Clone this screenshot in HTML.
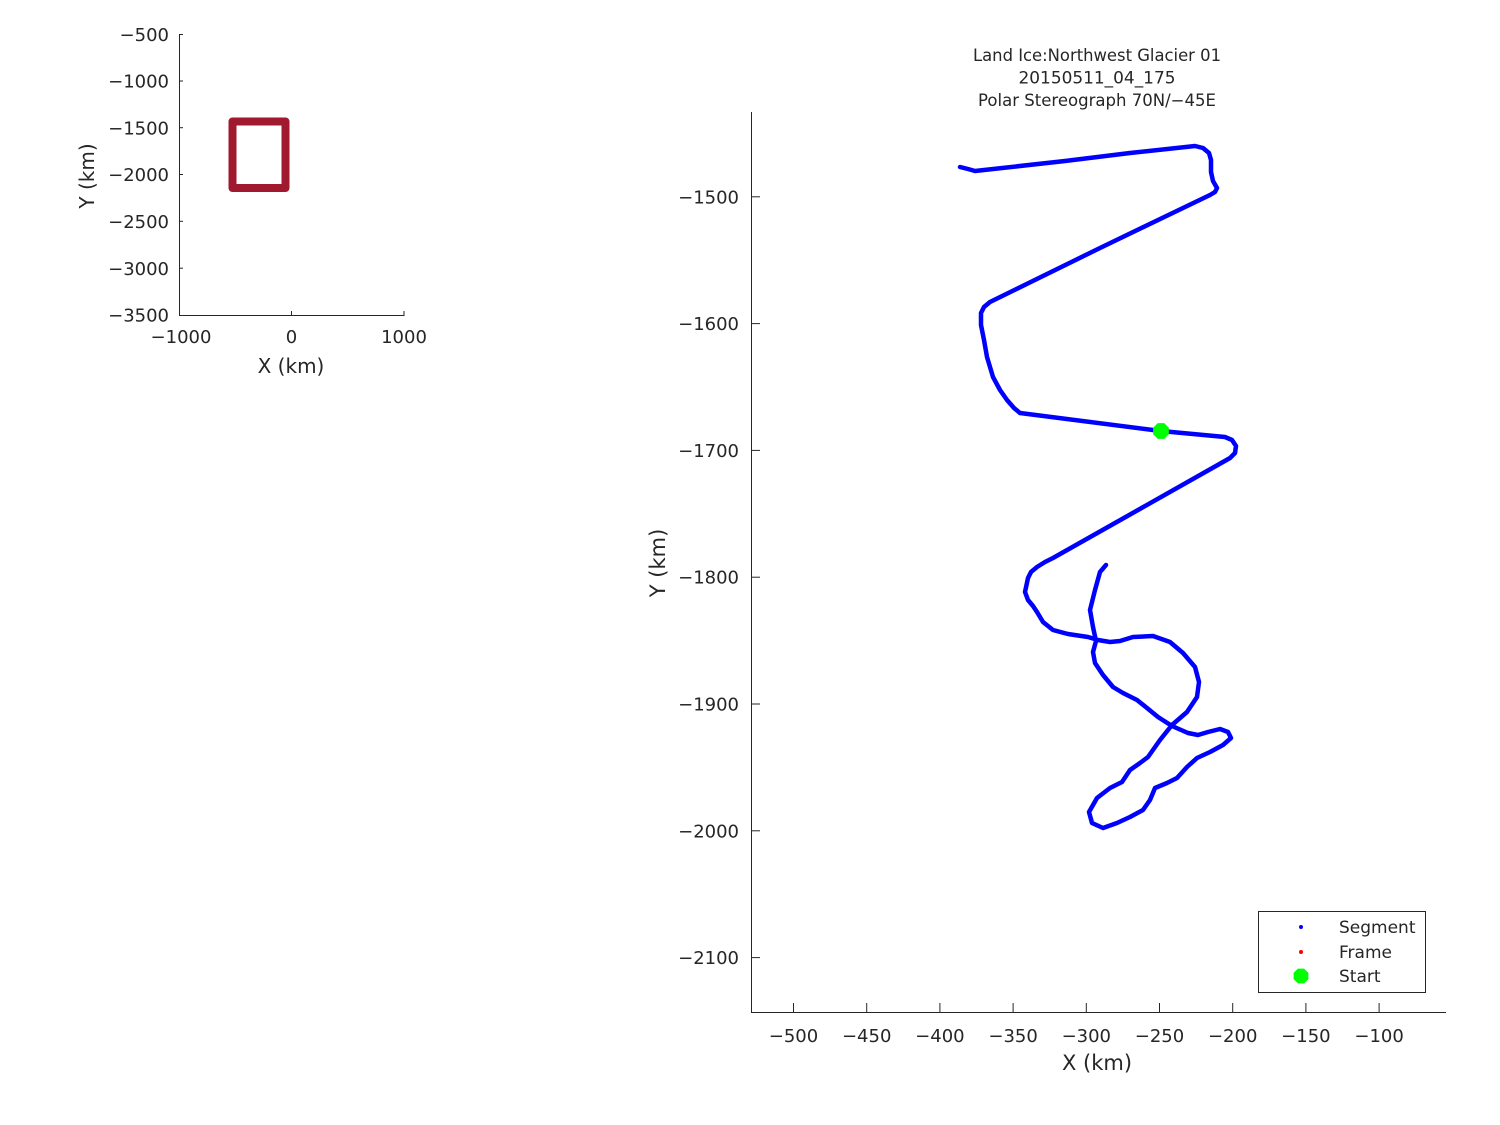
<!DOCTYPE html>
<html>
<head>
<meta charset="utf-8">
<style>
  html, body { margin:0; padding:0; background:#fff; }
  svg { display:block; }
  text { font-family: "DejaVu Sans", "Liberation Sans", sans-serif; fill:#262626; }
</style>
</head>
<body>
<svg width="1500" height="1125" viewBox="0 0 1500 1125" xmlns="http://www.w3.org/2000/svg">
  <rect x="0" y="0" width="1500" height="1125" fill="#fff"/>

  <!-- ===== Small overview axes ===== -->
  <g stroke="#262626" stroke-width="1" fill="none">
    <line x1="179.5" y1="34" x2="179.5" y2="315.5"/>
    <line x1="179" y1="315.5" x2="404.5" y2="315.5"/>
    <line x1="291.5" y1="315" x2="291.5" y2="311"/>
    <line x1="404" y1="315" x2="404" y2="311"/>
    <line x1="179" y1="34.5" x2="183" y2="34.5"/>
    <line x1="179" y1="81" x2="183" y2="81"/>
    <line x1="179" y1="127.7" x2="183" y2="127.7"/>
    <line x1="179" y1="174.5" x2="183" y2="174.5"/>
    <line x1="179" y1="221.3" x2="183" y2="221.3"/>
    <line x1="179" y1="268.2" x2="183" y2="268.2"/>
  </g>
  <rect x="232.5" y="121.5" width="53" height="66.5" fill="none" stroke="#a0192f" stroke-width="8" stroke-linejoin="round"/>
  <g font-size="18" text-anchor="end">
    <text x="169" y="41">−500</text>
    <text x="169" y="87.5">−1000</text>
    <text x="169" y="134.5">−1500</text>
    <text x="169" y="181">−2000</text>
    <text x="169" y="228">−2500</text>
    <text x="169" y="275">−3000</text>
    <text x="169" y="321.5">−3500</text>
  </g>
  <g font-size="18" text-anchor="middle">
    <text x="181" y="343">−1000</text>
    <text x="291.5" y="343">0</text>
    <text x="404" y="343">1000</text>
  </g>
  <text x="291" y="373" font-size="20" text-anchor="middle">X (km)</text>
  <text x="0" y="0" font-size="20" text-anchor="middle" transform="translate(94,176) rotate(-90)">Y (km)</text>

  <!-- ===== Main axes ===== -->
  <g font-size="16.5" text-anchor="middle">
    <text x="1097" y="61" textLength="248" lengthAdjust="spacingAndGlyphs">Land Ice:Northwest Glacier 01</text>
    <text x="1097" y="83.5" textLength="157" lengthAdjust="spacingAndGlyphs">20150511_04_175</text>
    <text x="1097" y="106" textLength="238" lengthAdjust="spacingAndGlyphs">Polar Stereograph 70N/−45E</text>
  </g>

  <g stroke="#262626" stroke-width="1" fill="none">
    <line x1="751.5" y1="112" x2="751.5" y2="1012.5"/>
    <line x1="751" y1="1012.5" x2="1446" y2="1012.5"/>
    <line x1="793.5" y1="1012" x2="793.5" y2="1003"/>
    <line x1="866.7" y1="1012" x2="866.7" y2="1003"/>
    <line x1="939.9" y1="1012" x2="939.9" y2="1003"/>
    <line x1="1013.1" y1="1012" x2="1013.1" y2="1003"/>
    <line x1="1086.3" y1="1012" x2="1086.3" y2="1003"/>
    <line x1="1159.5" y1="1012" x2="1159.5" y2="1003"/>
    <line x1="1232.7" y1="1012" x2="1232.7" y2="1003"/>
    <line x1="1305.9" y1="1012" x2="1305.9" y2="1003"/>
    <line x1="1379.1" y1="1012" x2="1379.1" y2="1003"/>
    <line x1="751" y1="196.8" x2="760" y2="196.8"/>
    <line x1="751" y1="323.6" x2="760" y2="323.6"/>
    <line x1="751" y1="450.4" x2="760" y2="450.4"/>
    <line x1="751" y1="577.2" x2="760" y2="577.2"/>
    <line x1="751" y1="704" x2="760" y2="704"/>
    <line x1="751" y1="830.8" x2="760" y2="830.8"/>
    <line x1="751" y1="957.6" x2="760" y2="957.6"/>
  </g>

  <g font-size="18" text-anchor="end">
    <text x="739" y="203.3">−1500</text>
    <text x="739" y="330.1">−1600</text>
    <text x="739" y="456.9">−1700</text>
    <text x="739" y="583.7">−1800</text>
    <text x="739" y="710.5">−1900</text>
    <text x="739" y="837.3">−2000</text>
    <text x="739" y="964.1">−2100</text>
  </g>
  <g font-size="18" text-anchor="middle">
    <text x="793.5" y="1042">−500</text>
    <text x="866.7" y="1042">−450</text>
    <text x="939.9" y="1042">−400</text>
    <text x="1013.1" y="1042">−350</text>
    <text x="1086.3" y="1042">−300</text>
    <text x="1159.5" y="1042">−250</text>
    <text x="1232.7" y="1042">−200</text>
    <text x="1305.9" y="1042">−150</text>
    <text x="1379.1" y="1042">−100</text>
  </g>
  <text x="1097" y="1070" font-size="21" text-anchor="middle">X (km)</text>
  <text x="0" y="0" font-size="21" text-anchor="middle" transform="translate(665,563) rotate(-90)">Y (km)</text>

  <!-- flight track -->
  <polyline fill="none" stroke="#0000ff" stroke-width="4.5" stroke-linejoin="round" stroke-linecap="round"
    points="960,167 968,169 975,171 1065,161 1130,153 1195,146 1203,148 1209,153 1211,160 1211,172 1213,181 1217,188 1215,192 1210,195
            1100,248 990,302 984,307 981,313 981,325 984,340 987,357 993,377 1000,390 1007,400 1014,408 1020,413
            1153,430 1161,431 1225,437 1232,440 1236,446 1235,453 1230,458 1223,462
            1053,558 1045,562 1037,567 1031,572 1028,578 1025,592 1028,600 1033,606 1037,612 1043,622 1053,630 1068,634 1088,637 1098,640 1110,642 1120,641 1133,637 1153,636 1170,642 1183,653 1195,667 1199,682 1197,697 1187,712 1172,725 1160,740 1148,757 1140,763 1130,770 1122,782 1110,788 1097,798 1089,812 1092,823 1103,828 1117,823 1130,817 1143,810 1150,800 1155,788 1167,783 1177,778 1187,767 1197,758 1210,752 1223,745 1231,738 1228,732 1220,729 1208,732 1198,735 1188,733 1172,726 1158,717 1147,708 1137,700 1123,693 1113,687 1103,675 1095,663 1093,652 1096,641 1093,627 1090,610 1095,590 1100,572 1106,565"/>

  <!-- start marker -->
  <polygon fill="#00ff00" points="1168.85,434.25 1164.25,438.85 1157.75,438.85 1153.15,434.25 1153.15,427.75 1157.75,423.15 1164.25,423.15 1168.85,427.75"/>

  <!-- legend -->
  <rect x="1258.5" y="911.5" width="167" height="81" fill="#fff" stroke="#262626" stroke-width="1"/>
  <circle cx="1301" cy="927" r="2" fill="#0000ff"/>
  <circle cx="1301" cy="952" r="2" fill="#ff0000"/>
  <polygon fill="#00ff00" points="1308.4,979.1 1304.1,983.4 1297.9,983.4 1293.6,979.1 1293.6,972.9 1297.9,968.6 1304.1,968.6 1308.4,972.9"/>
  <g font-size="17">
    <text x="1339" y="933">Segment</text>
    <text x="1339" y="958">Frame</text>
    <text x="1339" y="982">Start</text>
  </g>
</svg>
</body>
</html>
